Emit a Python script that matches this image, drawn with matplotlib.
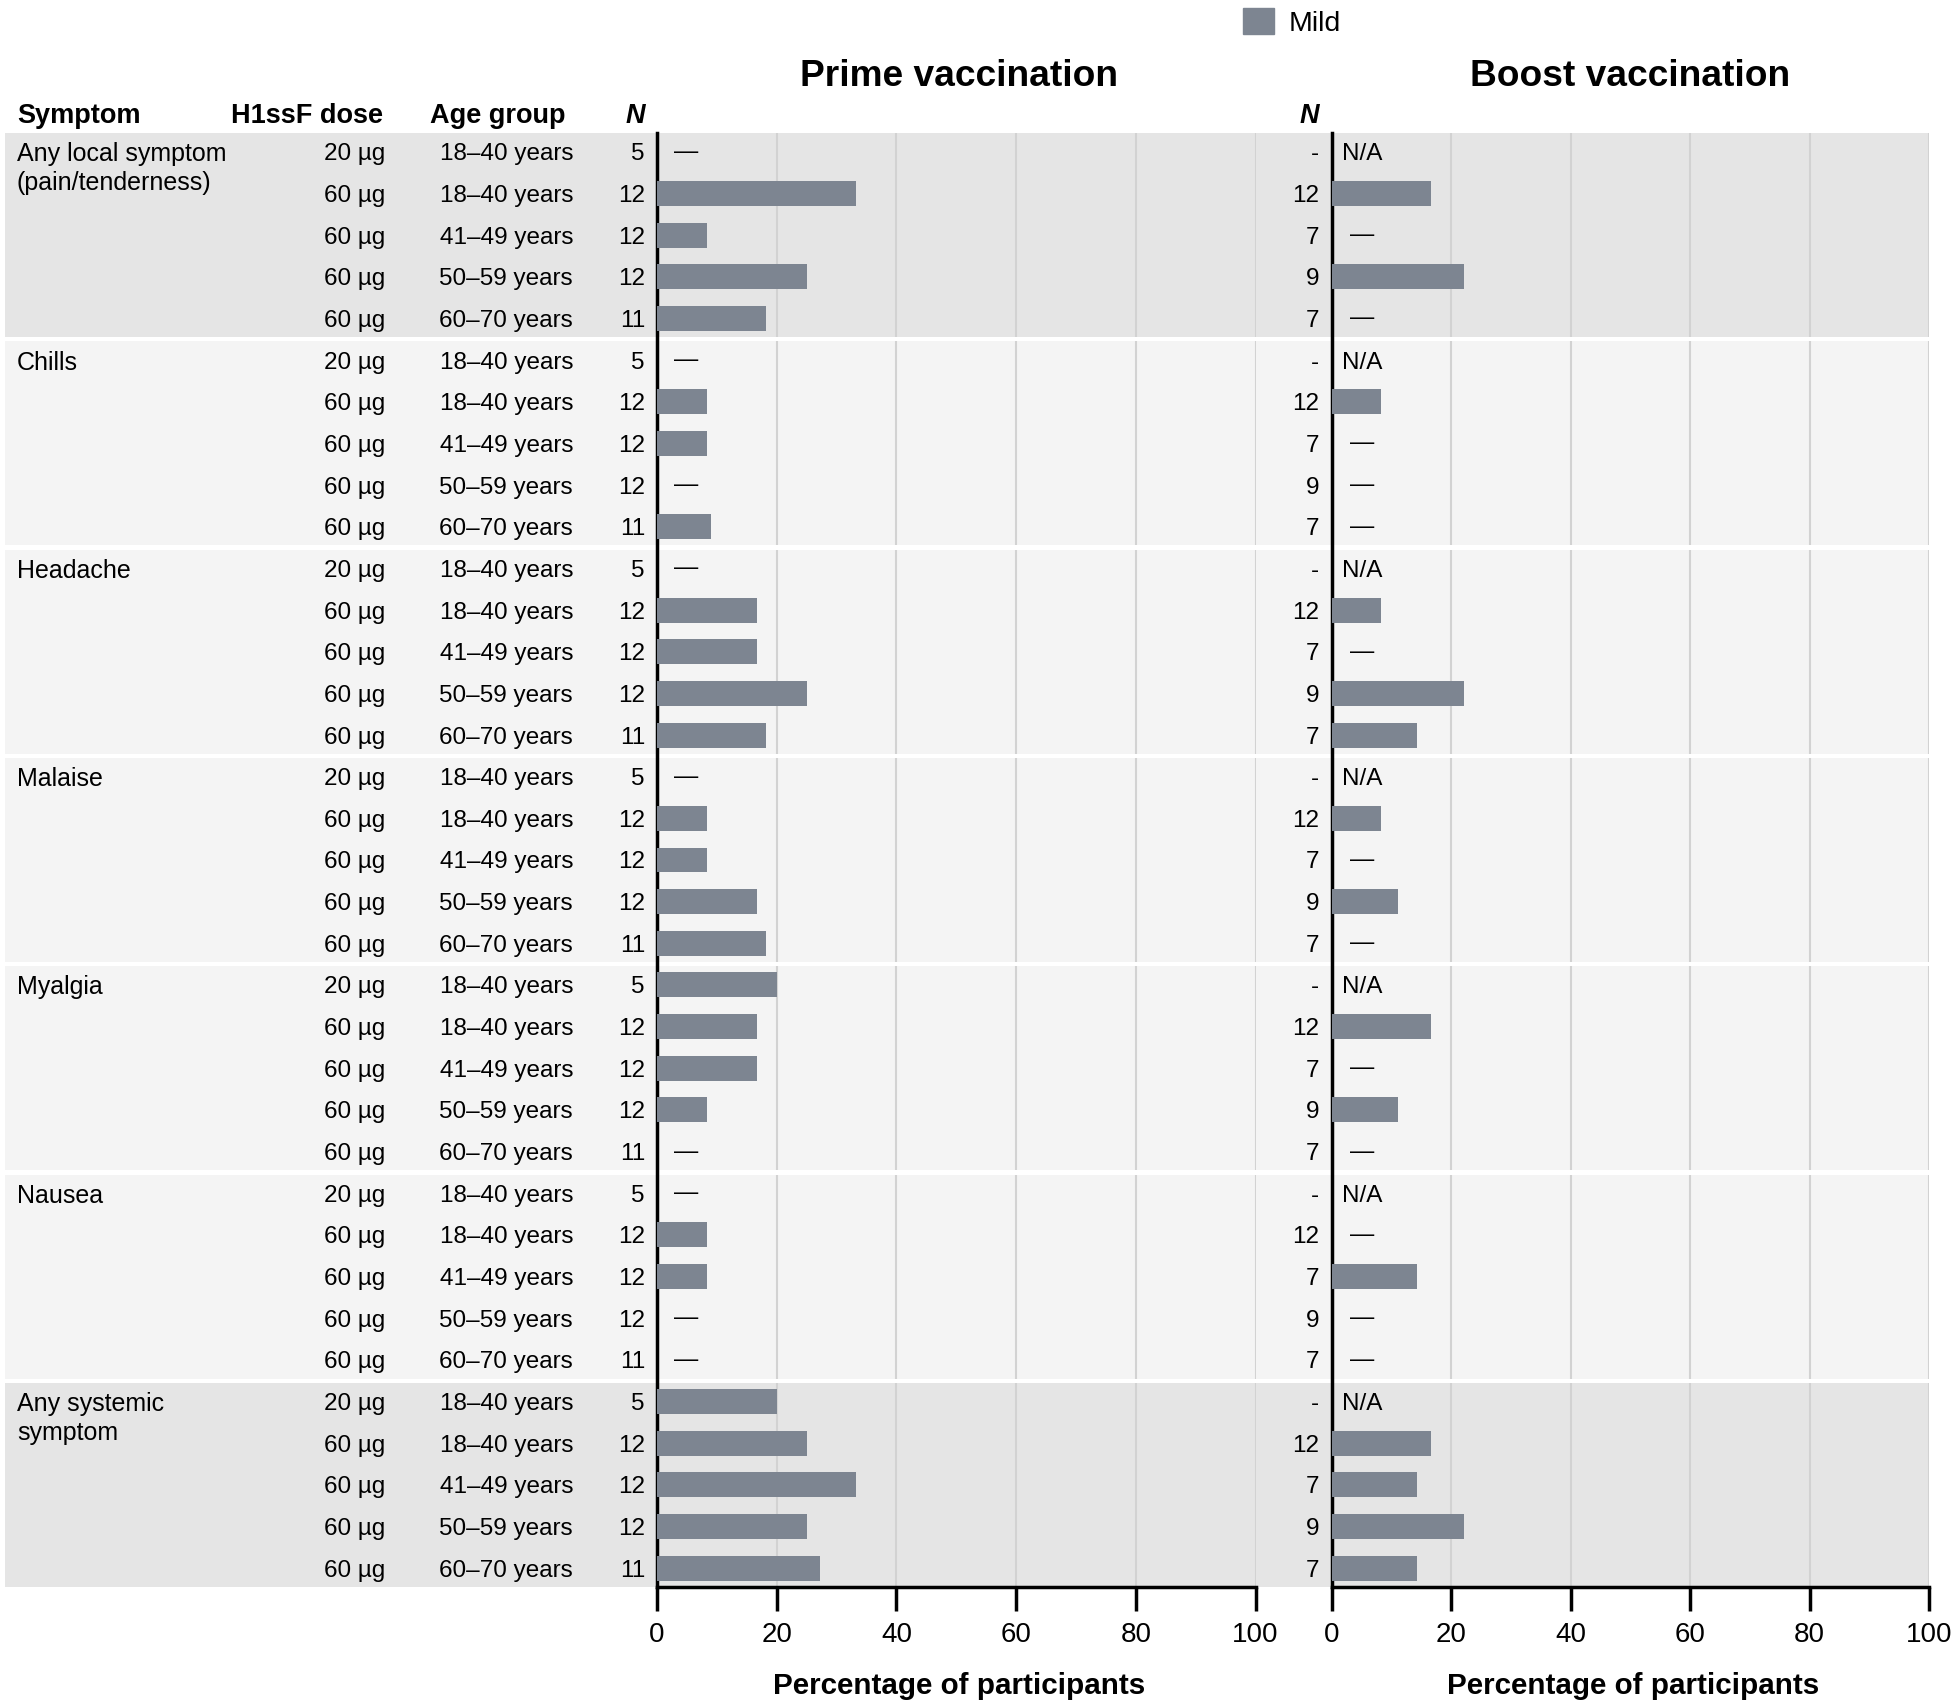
import matplotlib
matplotlib.use('Agg')
import matplotlib.pyplot as plt
from matplotlib import transforms
from matplotlib.patches import Rectangle, Patch

plt.rcParams['font.family'] = ['Liberation Sans', 'DejaVu Sans']

# --- data ---
symptoms = ['Any local symptom\n(pain/tenderness)', 'Chills', 'Headache', 'Malaise',
            'Myalgia', 'Nausea', 'Any systemic\nsymptom']
dark_groups = [0, 6]
doses = ['20 µg', '60 µg', '60 µg', '60 µg', '60 µg']
age_groups = ['18–40 years', '18–40 years', '41–49 years', '50–59 years', '60–70 years']
n_prime = ['5', '12', '12', '12', '11']
n_boost = ['-', '12', '7', '9', '7']

# % participants with mild symptoms (None = N/A)
prime_local = [0, 33.3, 8.3, 25.0, 18.2]
prime_chills = [0, 8.3, 8.3, 0, 9.1]
prime_headache = [0, 16.7, 16.7, 25.0, 18.2]
prime_malaise = [0, 8.3, 8.3, 16.7, 18.2]
prime_myalgia = [20.0, 16.7, 16.7, 8.3, 0]
prime_nausea = [0, 8.3, 8.3, 0, 0]
prime_systemic = [20.0, 25.0, 33.3, 25.0, 27.3]

boost_local = [None, 16.7, 0, 22.2, 0]
boost_chills = [None, 8.3, 0, 0, 0]
boost_headache = [None, 8.3, 0, 22.2, 14.3]
boost_malaise = [None, 8.3, 0, 11.1, 0]
boost_myalgia = [None, 16.7, 0, 11.1, 0]
boost_nausea = [None, 0, 14.3, 0, 0]
boost_systemic = [None, 16.7, 14.3, 22.2, 14.3]

prime = [prime_local, prime_chills, prime_headache, prime_malaise,
         prime_myalgia, prime_nausea, prime_systemic]
boost = [boost_local, boost_chills, boost_headache, boost_malaise,
         boost_myalgia, boost_nausea, boost_systemic]

xticks = [0, 20, 40, 60, 80, 100]

bar_col = '#7d8591'
dark_band = '#e5e5e5'
light_band = '#f4f4f4'
grid_col = '#d2d2d2'

W, H = 1955, 1704
fig = plt.figure(figsize=(W / 100, H / 100), dpi=100)

ax_top, ax_bot = 133, 1587
nrows = len(symptoms) * 5
ax1 = fig.add_axes([657 / W, 1 - ax_bot / H, (1255.5 - 657) / W, (ax_bot - ax_top) / H])
ax2 = fig.add_axes([1331.5 / W, 1 - ax_bot / H, (1929 - 1331.5) / W, (ax_bot - ax_top) / H])

for ax in (ax1, ax2):
    ax.set_facecolor('none')
    ax.set_xlim(0, 100)
    ax.set_ylim(nrows - 1 + 0.45, -0.45)
    for s in ['top', 'right']:
        ax.spines[s].set_visible(False)
    ax.spines['left'].set_linewidth(2.5)
    ax.spines['bottom'].set_linewidth(2.5)
    ax.set_yticks([])
    ax.set_xticks(xticks)
    ax.tick_params(axis='x', length=17, width=2.5, labelsize=20, pad=8)
    for g in range(len(symptoms)):
        ax.vlines(xticks[1:], g * 5 - 0.45, g * 5 + 4.45, color=grid_col, lw=1.5, zorder=1)

trans = transforms.blended_transform_factory(fig.transFigure, ax1.transData)

# background bands
for g in range(len(symptoms)):
    col = dark_band if g in dark_groups else light_band
    fig.add_artist(Rectangle((5 / W, g * 5 - 0.45), (1929 - 5) / W, 4.9, transform=trans,
                             facecolor=col, edgecolor='none', zorder=-1))

fs = 17.5
dy = 0.06  # nudge text down to row centre
for g, name in enumerate(symptoms):
    for k, line in enumerate(name.split('\n')):
        fig.text(17 / W, g * 5 + k * 0.7 + dy, line, transform=trans, ha='left', va='center', fontsize=18)
    for i in range(5):
        y = g * 5 + i
        fig.text(385 / W, y + dy, doses[i], transform=trans, ha='right', va='center', fontsize=fs)
        fig.text(573 / W, y + dy, age_groups[i], transform=trans, ha='right', va='center', fontsize=fs)
        fig.text(645 / W, y + dy, n_prime[i], transform=trans, ha='right', va='center', fontsize=fs)
        fig.text(1319 / W, y + dy, n_boost[i], transform=trans, ha='right', va='center', fontsize=fs)

        p = prime[g][i]
        if p:
            ax1.barh(y, p, height=0.6, color=bar_col, zorder=3)
        else:
            ax1.text(4.8, y, '—', ha='center', va='center', fontsize=fs)
        b = boost[g][i]
        if b is None:
            ax2.text(1.8, y + dy, 'N/A', ha='left', va='center', fontsize=fs)
        elif b:
            ax2.barh(y, b, height=0.6, color=bar_col, zorder=3)
        else:
            ax2.text(5.1, y, '—', ha='center', va='center', fontsize=fs)

# headers
hy = 1 - 116 / H
hfs = 19.5
fig.text(17 / W, hy, 'Symptom', ha='left', va='center', fontsize=hfs, weight='bold')
fig.text(383 / W, hy, 'H1ssF dose', ha='right', va='center', fontsize=hfs, weight='bold')
fig.text(565 / W, hy, 'Age group', ha='right', va='center', fontsize=hfs, weight='bold')
fig.text(645 / W, hy, 'N', ha='right', va='center', fontsize=hfs, weight='bold', style='italic')
fig.text(1319 / W, hy, 'N', ha='right', va='center', fontsize=hfs, weight='bold', style='italic')

fig.text(959 / W, 1 - 77 / H, 'Prime vaccination', ha='center', va='center', fontsize=26.7, weight='bold')
fig.text(1630 / W, 1 - 77 / H, 'Boost vaccination', ha='center', va='center', fontsize=26.7, weight='bold')

for ax in (ax1, ax2):
    pos = ax.get_position()
    fig.text((pos.x0 + pos.x1) / 2 + 3 / W, 1 - 1686 / H, 'Percentage of participants',
             ha='center', va='center', fontsize=21.3, weight='bold')

fig.legend(handles=[Patch(color=bar_col, label='Mild')], loc='upper left',
           bbox_to_anchor=(1243 / W, 1 - 8 / H), frameon=False, fontsize=20.5,
           handlelength=1.1, handleheight=1.05, borderpad=0, borderaxespad=0, handletextpad=0.5)

fig.savefig('out.png', dpi=100)
